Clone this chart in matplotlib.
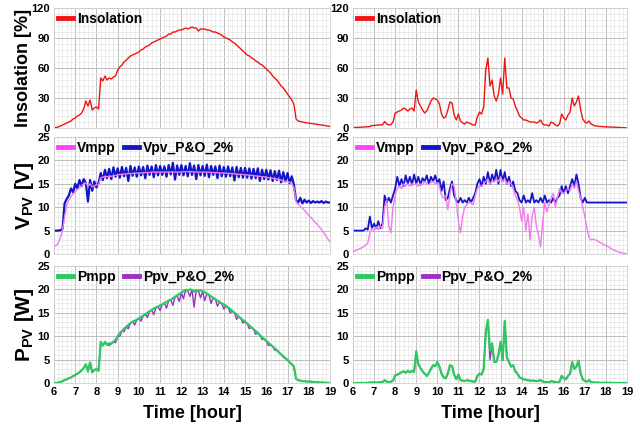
import numpy as np
import matplotlib
matplotlib.use('Agg')
import matplotlib.pyplot as plt
from matplotlib.ticker import MultipleLocator

plt.rcParams['font.family'] = ['Liberation Sans Narrow', 'Liberation Sans', 'DejaVu Sans']
plt.rcParams['font.weight'] = 'bold'
plt.rcParams['mathtext.fontset'] = 'custom'
plt.rcParams['mathtext.bf'] = 'Liberation Sans:bold'
plt.rcParams['mathtext.rm'] = 'Liberation Sans:bold'

# time axis, 0.1 h steps from 6 to 19
hours = np.round(np.arange(6.0, 19.001, 0.1), 2)

# ---- left column (clear day) ----
insol_l = [
    0, 0.5, 1, 2, 3, 4, 5, 6, 7, 9,
    10, 12, 13, 15, 19, 27, 22, 28, 18, 20,
    21, 19, 50, 47, 52, 48, 50, 49, 51, 52,
    58, 61, 63, 66, 68, 70, 72, 73, 74, 75,
    76, 78, 79, 81, 82, 83, 85, 86, 87, 88,
    89, 90, 91, 92, 94, 94, 96, 96, 97, 98,
    98, 99, 100, 99, 100, 101, 100, 100, 97, 99,
    99, 99, 98, 98, 97, 96, 96, 95, 94, 93,
    91, 90, 89, 88, 86, 85, 83, 81, 79, 77,
    75, 73, 72, 70, 69, 67, 66, 64, 63, 61,
    59, 57, 55, 52, 50, 48, 45, 42, 40, 37,
    34, 31, 28, 24, 9, 7, 6.5, 6, 5.5, 5.2,
    4.9, 4.6, 4.3, 4.0, 3.7, 3.4, 3.0, 2.7, 2.3, 2.0,
    1.5]

vmpp_l = [
    1.6, 1.8, 2.3, 3.5, 5.0, 8.0, 10.5, 11.5, 12.3, 12.8,
    13.3, 13.8, 14.2, 14.6, 15.0, 15.2, 14.5, 15.0, 14.3, 14.6,
    14.8, 14.7, 16.3, 16.4, 16.6, 16.5, 16.6, 16.6, 16.7, 16.8,
    16.9, 17.0, 17.0, 17.1, 17.1, 17.2, 17.2, 17.2, 17.3, 17.3,
    17.3, 17.3, 17.4, 17.4, 17.4, 17.4, 17.5, 17.5, 17.5, 17.5,
    17.5, 17.5, 17.5, 17.5, 17.5, 17.5, 17.5, 17.5, 17.5, 17.5,
    17.5, 17.6, 17.6, 17.6, 17.6, 17.6, 17.5, 17.5, 17.5, 17.5,
    17.5, 17.5, 17.5, 17.5, 17.4, 17.4, 17.4, 17.4, 17.3, 17.3,
    17.3, 17.3, 17.2, 17.2, 17.2, 17.1, 17.1, 17.0, 17.0, 17.0,
    16.9, 16.9, 16.8, 16.8, 16.7, 16.7, 16.6, 16.6, 16.5, 16.5,
    16.4, 16.3, 16.3, 16.2, 16.1, 16.0, 15.9, 15.8, 15.6, 15.5,
    15.5, 15.3, 15.0, 14.2, 11.2, 10.6, 10.2, 9.8, 9.3, 8.8,
    8.3, 7.8, 7.3, 6.8, 6.3, 5.8, 5.2, 4.6, 3.9, 3.2,
    2.6]

vpv_l = [
    5.0, 5.0, 5.0, 5.1, 5.3, 10.8, 11.8, 12.5, 14.0, 13.2,
    15.0, 14.0, 15.8, 14.5, 16.0, 15.2, 11.2, 15.8, 13.5, 15.5,
    14.2, 15.2, 17.3, 15.8, 18.0, 16.2, 18.2, 16.0, 18.5, 16.5,
    18.3, 16.3, 18.6, 16.6, 18.4, 15.6, 18.8, 16.7, 18.5, 16.5,
    18.7, 16.8, 18.6, 16.2, 18.9, 16.9, 18.7, 16.4, 19.0, 16.8,
    18.8, 16.9, 18.7, 16.5, 19.0, 17.0, 19.5, 15.9, 18.9, 16.9,
    19.0, 16.8, 18.8, 16.6, 19.4, 16.9, 18.9, 16.0, 19.0, 16.8,
    18.8, 16.7, 19.1, 16.4, 18.8, 16.9, 18.7, 16.2, 18.9, 16.6,
    18.6, 16.5, 18.7, 16.6, 18.5, 15.7, 18.6, 16.4, 18.4, 16.3,
    18.4, 16.3, 18.3, 16.1, 18.2, 16.2, 18.3, 15.6, 18.0, 16.0,
    18.0, 15.9, 17.9, 15.6, 17.7, 15.8, 17.8, 15.3, 17.5, 15.5,
    17.3, 15.1, 16.6, 14.8, 11.5, 11.0, 12.0, 10.8, 11.6, 11.0,
    11.4, 10.9, 11.3, 11.0, 11.2, 11.0, 11.3, 10.9, 11.2, 11.0,
    11.0]

pmpp_l = [
    0, 0, 0.1, 0.2, 0.4, 0.6, 0.8, 1.0, 1.2, 1.5,
    1.7, 2.0, 2.3, 2.7, 3.2, 4.0, 2.5, 4.4, 2.3, 2.8,
    3.0, 2.6, 8.8, 8.0, 8.8, 8.2, 8.5, 8.4, 8.8, 9.2,
    10.0, 10.7, 11.1, 11.6, 12.0, 12.4, 12.8, 13.1, 13.3, 13.5,
    13.8, 14.1, 14.4, 14.7, 15.0, 15.3, 15.6, 15.9, 16.1, 16.3,
    16.6, 16.8, 17.1, 17.3, 17.6, 17.8, 18.1, 18.4, 18.7, 19.0,
    19.3, 19.6, 19.9, 19.7, 20.0, 19.9, 19.5, 19.8, 19.7, 19.8,
    19.6, 19.4, 19.1, 18.8, 18.5, 18.2, 17.9, 17.6, 17.3, 17.0,
    16.8, 16.5, 16.1, 15.8, 15.4, 15.0, 14.6, 14.2, 13.8, 13.4,
    13.1, 12.7, 12.3, 11.9, 11.5, 11.1, 10.7, 10.2, 9.8, 9.4,
    9.0, 8.6, 8.2, 7.8, 7.4, 7.0, 6.5, 6.1, 5.7, 5.3,
    4.9, 4.4, 4.0, 3.5, 0.9, 0.6, 0.5, 0.4, 0.4, 0.3,
    0.3, 0.3, 0.2, 0.2, 0.2, 0.1, 0.1, 0.1, 0.05, 0.0,
    0.0]

ppv_l = [
    0, 0, 0.1, 0.2, 0.4, 0.6, 0.8, 1.0, 1.2, 1.5,
    1.7, 2.0, 2.3, 2.7, 3.2, 3.9, 2.4, 4.3, 2.2, 2.7,
    3.0, 2.6, 8.4, 8.0, 8.6, 8.2, 8.0, 8.4, 8.8, 8.6,
    10.0, 10.0, 11.1, 11.0, 12.0, 11.6, 12.8, 13.1, 12.4, 13.5,
    13.8, 13.2, 14.4, 14.7, 14.0, 15.3, 15.6, 14.6, 16.1, 16.3,
    15.5, 16.8, 17.1, 16.0, 17.6, 17.8, 16.6, 18.4, 18.7, 17.4,
    19.3, 18.0, 19.9, 19.7, 18.5, 19.9, 16.2, 19.8, 19.7, 18.2,
    19.6, 17.6, 19.1, 18.8, 17.0, 18.2, 17.9, 16.4, 17.3, 17.0,
    15.8, 16.5, 16.1, 15.0, 15.4, 15.0, 13.6, 14.2, 13.8, 12.8,
    13.1, 12.7, 11.6, 11.9, 11.5, 10.4, 10.7, 10.2, 9.3, 9.4,
    9.0, 8.0, 8.2, 7.8, 7.0, 7.0, 6.5, 6.1, 5.5, 5.3,
    4.9, 4.4, 4.0, 3.5, 0.9, 0.6, 0.5, 0.4, 0.4, 0.3,
    0.3, 0.3, 0.2, 0.2, 0.2, 0.1, 0.1, 0.1, 0.05, 0.0,
    0.0]

# ---- right column (cloudy day) ----
insol_r = [
    0.5, 0.5, 0.6, 0.7, 0.8, 1.0, 1.0, 1.2, 1.5, 2.5,
    2.5, 2.7, 3.0, 3.2, 3.0, 6.5, 4.0, 3.0, 3.5, 6.0,
    15, 16, 17, 18, 20, 19, 17, 19, 20, 17,
    38, 26, 22, 18, 15, 17, 22, 27, 30, 29,
    28, 24, 14, 10, 11, 18, 26, 25, 13, 8,
    14, 7, 5, 4, 6, 5, 4, 3, 3, 11,
    16, 14, 21, 58, 70, 42, 48, 32, 27, 34,
    50, 34, 70, 40, 40, 30, 29, 22, 17, 12,
    10, 8, 8, 7, 6, 6, 6, 5, 6, 8,
    4, 3, 3, 2, 6, 5, 3, 2, 4, 14,
    10, 8, 13, 16, 30, 22, 26, 32, 18, 9,
    6, 5, 7, 4, 3, 2, 2, 1.5, 1.5, 1.2,
    1.2, 1.0, 1.0, 0.9, 0.8, 0.7, 0.5, 0.4, 0.3, 0.2,
    0.1]

vmpp_r = [
    0.5, 0.7, 0.9, 1.1, 1.3, 1.5, 1.9, 2.3, 4.5, 5.5,
    5.0, 5.8, 5.2, 6.0, 5.5, 10.0, 11.5, 6.0, 4.5, 10.0,
    12.5, 14.0, 14.5, 14.0, 15.0, 14.5, 15.0, 14.5, 15.0, 14.8,
    15.0, 14.5, 15.0, 14.8, 15.5, 15.0, 14.8, 15.3, 15.5, 15.0,
    15.2, 14.5, 12.5, 12.0, 12.5, 9.5, 13.0, 15.0, 14.5, 11.0,
    7.0, 4.5, 8.0, 10.0, 10.5, 11.0, 11.0, 10.5, 12.5, 14.0,
    14.5, 14.5, 15.0, 15.5, 16.0, 15.0, 15.5, 15.5, 16.0, 15.5,
    16.5, 15.5, 16.0, 15.0, 15.5, 15.0, 14.0, 12.5, 11.5, 10.0,
    7.0, 10.0, 5.0, 8.5, 3.0, 8.0, 10.0, 6.0, 4.0, 1.5,
    7.0, 11.0, 9.0, 10.5, 12.0, 13.0, 10.0, 12.0, 14.0, 13.0,
    13.0, 13.5, 14.0, 13.5, 15.0, 14.0, 15.5, 13.5, 12.0, 10.0,
    8.0, 5.5, 3.5, 3.0, 3.2, 3.0, 2.8, 2.5, 2.3, 2.0,
    1.8, 1.6, 1.3, 1.0, 0.8, 0.6, 0.4, 0.3, 0.2, 0.1,
    0.0]

vpv_r = [
    5.0, 5.0, 5.0, 5.0, 5.0, 5.0, 5.5, 5.2, 8.0, 5.5,
    6.5, 5.5, 7.0, 5.5, 6.5, 12.5, 11.0, 12.0, 11.0, 12.5,
    14.0, 16.5, 14.5, 16.0, 14.5, 16.8, 15.0, 16.5, 14.8, 17.0,
    15.0, 16.5, 14.8, 16.2, 15.5, 16.8, 15.0, 16.5, 15.5, 16.8,
    15.2, 16.0, 13.5, 15.5, 11.5, 12.0, 14.0, 15.5, 12.5, 11.5,
    11.0, 12.0, 11.0, 11.5, 11.0, 12.0, 11.0, 12.0, 13.0, 15.0,
    16.0, 14.5, 16.5, 15.0, 17.5, 15.0, 17.0, 15.5, 18.0, 15.0,
    18.0, 15.5, 17.5, 15.0, 16.5, 14.5, 15.5, 13.5, 13.0, 11.5,
    11.0, 12.5, 11.0, 11.5, 11.0, 13.0, 11.0, 11.5, 11.0, 12.0,
    11.0, 12.5, 11.0, 11.5, 11.0, 12.0, 11.0, 12.0, 12.5, 14.5,
    13.0, 14.5, 13.0, 14.5, 16.0, 14.5, 17.0, 15.0, 12.0, 11.0,
    12.0, 11.0, 11.0, 11.0, 11.0, 11.0, 11.0, 11.0, 11.0, 11.0,
    11.0, 11.0, 11.0, 11.0, 11.0, 11.0, 11.0, 11.0, 11.0, 11.0,
    11.0]

pmpp_r = [
    0, 0, 0, 0, 0, 0, 0, 0.05, 0.1, 0.1,
    0.1, 0.1, 0.1, 0.2, 0.2, 0.6, 0.3, 0.2, 0.3, 0.5,
    1.6, 1.8, 2.0, 2.3, 2.5, 2.2, 2.6, 2.3, 2.6, 2.4,
    6.8, 4.0, 3.2, 2.5, 2.0, 1.5, 2.2, 3.0, 3.8, 3.6,
    4.5, 3.5, 2.0, 1.2, 1.0, 2.0, 3.8, 3.6, 1.8, 0.8,
    1.8, 0.6, 0.5, 0.4, 0.6, 0.5, 0.4, 0.3, 0.3, 1.5,
    2.0, 1.8, 3.0, 11.0, 13.5, 7.0, 8.5, 4.5, 4.5, 6.0,
    8.8, 5.0, 13.3, 5.5, 4.5, 3.5, 3.8, 2.5, 2.0, 1.2,
    1.0, 0.8, 0.7, 0.6, 0.5, 0.5, 0.5, 0.4, 0.5, 0.6,
    0.3, 0.2, 0.2, 0.1, 0.4, 0.3, 0.2, 0.1, 0.3, 1.5,
    1.0, 0.8, 1.5, 2.0, 4.5, 3.0, 3.5, 4.8, 2.0, 0.8,
    0.4, 0.3, 0.6, 0.2, 0.1, 0.1, 0.1, 0.05, 0.05, 0.05,
    0.05, 0.05, 0.05, 0.0, 0.0, 0.0, 0.0, 0.0, 0.0, 0.0,
    0.0]

ppv_r = [
    0, 0, 0, 0, 0, 0, 0, 0.05, 0.1, 0.1,
    0.1, 0.1, 0.1, 0.2, 0.2, 0.6, 0.3, 0.2, 0.3, 0.5,
    1.6, 1.8, 2.0, 2.3, 2.5, 2.2, 2.6, 2.3, 2.6, 2.4,
    6.6, 4.0, 3.2, 2.5, 2.0, 1.5, 2.2, 3.0, 3.8, 3.6,
    4.4, 3.5, 2.0, 1.2, 1.0, 2.0, 3.7, 3.6, 1.8, 0.8,
    1.8, 0.6, 0.5, 0.4, 0.6, 0.5, 0.4, 0.3, 0.3, 1.5,
    2.0, 1.8, 3.0, 10.8, 13.2, 5.0, 8.3, 4.5, 4.5, 6.0,
    8.5, 4.8, 13.0, 5.3, 4.5, 3.5, 3.8, 2.5, 2.0, 1.2,
    1.0, 0.8, 0.7, 0.6, 0.5, 0.5, 0.5, 0.4, 0.5, 0.6,
    0.3, 0.2, 0.2, 0.1, 0.4, 0.3, 0.2, 0.1, 0.3, 1.5,
    1.0, 0.8, 1.5, 2.0, 4.4, 3.0, 3.5, 4.7, 2.0, 0.8,
    0.4, 0.3, 0.6, 0.2, 0.1, 0.1, 0.1, 0.05, 0.05, 0.05,
    0.05, 0.05, 0.05, 0.0, 0.0, 0.0, 0.0, 0.0, 0.0, 0.0,
    0.0]

x_ticks = list(range(6, 20))

RED = '#f01414'
PINK = '#f07cf0'
PINK_LEG = '#ff40ff'
BLUE = '#1414c8'
GREEN = '#2ec860'
PURPLE = '#9a30c8'

fig = plt.figure(figsize=(6.4, 4.25), dpi=100)

W, H = 640.0, 425.0
col_x = [(54, 330), (353, 627)]
row_y = [(8, 128), (137, 254), (266, 383)]


def make_ax(col, row):
    x0, x1 = col_x[col]
    y0, y1 = row_y[row]
    return fig.add_axes([x0 / W, 1 - y1 / H, (x1 - x0) / W, (y1 - y0) / H])


def style(ax, ymax, ymaj, ymin_step, show_x):
    ax.set_xlim(6, 19)
    ax.set_ylim(0, ymax)
    ax.xaxis.set_major_locator(MultipleLocator(1))
    ax.xaxis.set_minor_locator(MultipleLocator(0.2))
    ax.yaxis.set_major_locator(MultipleLocator(ymaj))
    ax.yaxis.set_minor_locator(MultipleLocator(ymin_step))
    ax.grid(True, which='major', color='#bdbdbd', linewidth=0.7)
    ax.grid(True, which='minor', color='#e4e4e4', linewidth=0.5)
    ax.set_axisbelow(True)
    ax.tick_params(which='both', length=0, labelsize=8, pad=3)
    for lab in ax.get_xticklabels() + ax.get_yticklabels():
        lab.set_fontweight('bold')
    if not show_x:
        ax.set_xticklabels([])
    else:
        ax.set_xticks(x_ticks)
    for s in ax.spines.values():
        s.set_color('#d0d0d0')
        s.set_linewidth(0.6)


def legend(ax):
    leg = ax.legend(loc='upper left', frameon=False, ncol=2, handlelength=1.1,
                    handletextpad=0.25, columnspacing=0.6, borderaxespad=0.1,
                    borderpad=0.2, prop={'size': 10, 'weight': 'bold'})
    for h in leg.get_lines():
        h.set_linewidth(3.5)
    return leg


panels = [
    (insol_l, vmpp_l, vpv_l, pmpp_l, ppv_l, 1.6),
    (insol_r, vmpp_r, vpv_r, pmpp_r, ppv_r, 1.3),
]

for col, (ins, vm, vp, pm, pp, vlw) in enumerate(panels):
    ax = make_ax(col, 0)
    ax.plot(hours, ins, color=RED, lw=1.0, label='Insolation')
    style(ax, 120, 30, 6, False)
    leg = legend(ax)
    leg.get_lines()[0].set_color(RED)

    ax = make_ax(col, 1)
    ax.plot(hours, vp, color=BLUE, lw=vlw, zorder=2)
    ax.plot(hours, vm, color=PINK, lw=1.0, zorder=3)
    ax.plot([], [], color=PINK_LEG, label='Vmpp')
    ax.plot([], [], color=BLUE, label='Vpv_P&O_2%')
    style(ax, 25, 5, 1, False)
    legend(ax)

    ax = make_ax(col, 2)
    ax.plot(hours, pp, color=PURPLE, lw=1.0, zorder=2)
    ax.plot(hours, pm, color=GREEN, lw=1.6, zorder=3)
    ax.plot([], [], color=GREEN, label='Pmpp')
    ax.plot([], [], color=PURPLE, label='Ppv_P&O_2%')
    style(ax, 25, 5, 1, True)
    legend(ax)

    cx = (col_x[col][0] + col_x[col][1]) / 2.0
    fig.text(cx / W, 1 - 413 / H, 'Time [hour]', ha='center', va='center',
             fontsize=13, fontweight='bold')

fig.text(24 / W, 1 - 68 / H, 'Insolation [%]', rotation=90, ha='center',
         va='center', fontsize=13, fontweight='bold')
fig.text(24 / W, 1 - 196 / H, r'V$_{\mathbf{PV}}$ [V]', rotation=90, ha='center',
         va='center', fontsize=15, fontweight='bold')
fig.text(24 / W, 1 - 325 / H, r'P$_{\mathbf{PV}}$ [W]', rotation=90, ha='center',
         va='center', fontsize=15, fontweight='bold')

fig.savefig('out.png', dpi=100)
